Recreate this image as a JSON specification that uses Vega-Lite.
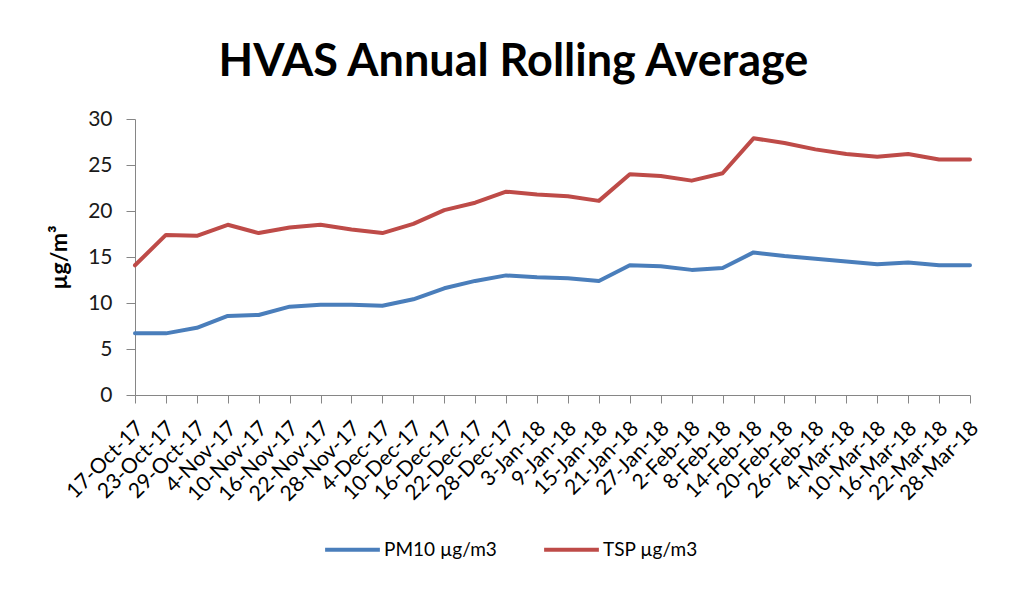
{
  "$schema": "https://vega.github.io/schema/vega-lite/v6.json",
  "width": 835,
  "height": 276,
  "autosize": "none",
  "padding": {"left": 135, "top": 119, "right": 46, "bottom": 195},
  "background": "white",
  "config": {
    "view": {"stroke": null},
    "font": "Lato"
  },
  "title": {
    "text": "HVAS Annual Rolling Average",
    "font": "Lato",
    "fontSize": 45,
    "fontWeight": "bold",
    "color": "black",
    "anchor": "middle",
    "dx": -39,
    "offset": 23
  },
  "data": {
    "values": [
      {"date": "17-Oct-17", "series": "PM10 µg/m3", "value": 6.7},
      {"date": "17-Oct-17", "series": "TSP µg/m3", "value": 14.1},
      {"date": "23-Oct-17", "series": "PM10 µg/m3", "value": 6.7},
      {"date": "23-Oct-17", "series": "TSP µg/m3", "value": 17.4},
      {"date": "29-Oct-17", "series": "PM10 µg/m3", "value": 7.3},
      {"date": "29-Oct-17", "series": "TSP µg/m3", "value": 17.3},
      {"date": "4-Nov-17", "series": "PM10 µg/m3", "value": 8.6},
      {"date": "4-Nov-17", "series": "TSP µg/m3", "value": 18.5},
      {"date": "10-Nov-17", "series": "PM10 µg/m3", "value": 8.7},
      {"date": "10-Nov-17", "series": "TSP µg/m3", "value": 17.6},
      {"date": "16-Nov-17", "series": "PM10 µg/m3", "value": 9.6},
      {"date": "16-Nov-17", "series": "TSP µg/m3", "value": 18.2},
      {"date": "22-Nov-17", "series": "PM10 µg/m3", "value": 9.8},
      {"date": "22-Nov-17", "series": "TSP µg/m3", "value": 18.5},
      {"date": "28-Nov-17", "series": "PM10 µg/m3", "value": 9.8},
      {"date": "28-Nov-17", "series": "TSP µg/m3", "value": 18.0},
      {"date": "4-Dec-17", "series": "PM10 µg/m3", "value": 9.7},
      {"date": "4-Dec-17", "series": "TSP µg/m3", "value": 17.6},
      {"date": "10-Dec-17", "series": "PM10 µg/m3", "value": 10.4},
      {"date": "10-Dec-17", "series": "TSP µg/m3", "value": 18.6},
      {"date": "16-Dec-17", "series": "PM10 µg/m3", "value": 11.6},
      {"date": "16-Dec-17", "series": "TSP µg/m3", "value": 20.1},
      {"date": "22-Dec-17", "series": "PM10 µg/m3", "value": 12.4},
      {"date": "22-Dec-17", "series": "TSP µg/m3", "value": 20.9},
      {"date": "28-Dec-17", "series": "PM10 µg/m3", "value": 13.0},
      {"date": "28-Dec-17", "series": "TSP µg/m3", "value": 22.1},
      {"date": "3-Jan-18", "series": "PM10 µg/m3", "value": 12.8},
      {"date": "3-Jan-18", "series": "TSP µg/m3", "value": 21.8},
      {"date": "9-Jan-18", "series": "PM10 µg/m3", "value": 12.7},
      {"date": "9-Jan-18", "series": "TSP µg/m3", "value": 21.6},
      {"date": "15-Jan-18", "series": "PM10 µg/m3", "value": 12.4},
      {"date": "15-Jan-18", "series": "TSP µg/m3", "value": 21.1},
      {"date": "21-Jan-18", "series": "PM10 µg/m3", "value": 14.1},
      {"date": "21-Jan-18", "series": "TSP µg/m3", "value": 24.0},
      {"date": "27-Jan-18", "series": "PM10 µg/m3", "value": 14.0},
      {"date": "27-Jan-18", "series": "TSP µg/m3", "value": 23.8},
      {"date": "2-Feb-18", "series": "PM10 µg/m3", "value": 13.6},
      {"date": "2-Feb-18", "series": "TSP µg/m3", "value": 23.3},
      {"date": "8-Feb-18", "series": "PM10 µg/m3", "value": 13.8},
      {"date": "8-Feb-18", "series": "TSP µg/m3", "value": 24.1},
      {"date": "14-Feb-18", "series": "PM10 µg/m3", "value": 15.5},
      {"date": "14-Feb-18", "series": "TSP µg/m3", "value": 27.9},
      {"date": "20-Feb-18", "series": "PM10 µg/m3", "value": 15.1},
      {"date": "20-Feb-18", "series": "TSP µg/m3", "value": 27.4},
      {"date": "26-Feb-18", "series": "PM10 µg/m3", "value": 14.8},
      {"date": "26-Feb-18", "series": "TSP µg/m3", "value": 26.7},
      {"date": "4-Mar-18", "series": "PM10 µg/m3", "value": 14.5},
      {"date": "4-Mar-18", "series": "TSP µg/m3", "value": 26.2},
      {"date": "10-Mar-18", "series": "PM10 µg/m3", "value": 14.2},
      {"date": "10-Mar-18", "series": "TSP µg/m3", "value": 25.9},
      {"date": "16-Mar-18", "series": "PM10 µg/m3", "value": 14.4},
      {"date": "16-Mar-18", "series": "TSP µg/m3", "value": 26.2},
      {"date": "22-Mar-18", "series": "PM10 µg/m3", "value": 14.1},
      {"date": "22-Mar-18", "series": "TSP µg/m3", "value": 25.6},
      {"date": "28-Mar-18", "series": "PM10 µg/m3", "value": 14.1},
      {"date": "28-Mar-18", "series": "TSP µg/m3", "value": 25.6}
    ]
  },
  "mark": {"type": "line", "strokeWidth": 4, "strokeCap": "round", "strokeJoin": "round"},
  "encoding": {
    "x": {
      "field": "date",
      "type": "ordinal",
      "sort": null,
      "scale": {"type": "point", "padding": 0},
      "axis": {
        "title": null,
        "labelAngle": -45,
        "labelAlign": "right",
        "labelBaseline": "middle",
        "labelFont": "Lato",
        "labelFontSize": 21,
        "labelColor": "black",
        "labelPadding": 22,
        "labelOffset": 5,
        "labelOverlap": false,
        "domainColor": "#868686",
        "tickColor": "#868686",
        "tickSize": 8,
        "grid": false
      }
    },
    "y": {
      "field": "value",
      "type": "quantitative",
      "scale": {"domain": [0, 30], "nice": false},
      "axis": {
        "title": "µg/m³",
        "titleFont": "Lato",
        "titleFontSize": 23,
        "titleFontWeight": "bold",
        "titleColor": "black",
        "titlePadding": 16,
        "values": [0, 5, 10, 15, 20, 25, 30],
        "labelFont": "Lato",
        "labelFontSize": 21,
        "labelColor": "#1a1a1a",
        "labelPadding": 14,
        "domainColor": "#868686",
        "tickColor": "#868686",
        "tickSize": 9,
        "grid": false
      }
    },
    "color": {
      "field": "series",
      "type": "nominal",
      "scale": {"domain": ["PM10 µg/m3", "TSP µg/m3"], "range": ["#4A7EBB", "#BE4B48"]},
      "legend": {
        "title": null,
        "orient": "none",
        "direction": "horizontal",
        "legendX": 188,
        "legendY": 401,
        "symbolType": "stroke",
        "symbolSize": 3000,
        "symbolStrokeWidth": 4,
        "labelFont": "Lato",
        "labelFontSize": 19,
        "labelColor": "black",
        "labelOffset": 2,
        "labelLimit": 300,
        "columnPadding": 39
      }
    }
  }
}
